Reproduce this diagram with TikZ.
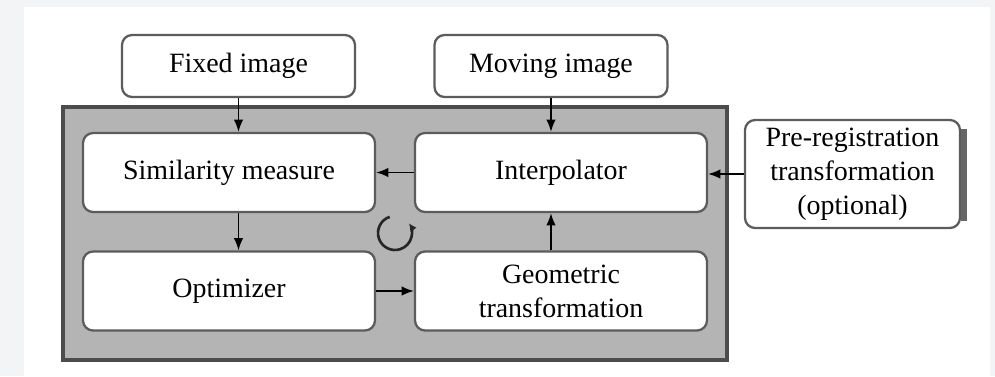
\documentclass[tikz,border=0pt]{standalone}
\usepackage{fontspec}
\setmainfont{Liberation Serif}
\usetikzlibrary{arrows.meta,positioning}
\definecolor{bgc}{HTML}{F3F4F6}
\definecolor{panel}{HTML}{B4B4B4}

\begin{document}
\begin{tikzpicture}[x=0.02cm, y=-0.02cm,
  b/.style={draw=black!64, line width=1.3pt, rounded corners=0.2cm, fill=white, align=center,
    font=\fontsize{15.9}{19.3}\selectfont, inner sep=0pt},
  w/.style={b, minimum width=5.84cm, minimum height=1.58cm},
  io/.style={b, minimum width=4.66cm, minimum height=1.24cm},
  >={Latex[length=7pt,width=5.5pt]}]
\fill[bgc] (0,0) rectangle (995,376);
\fill[white] (24,7) rectangle (990,376);
\useasboundingbox (0,0) rectangle (995,376);
\draw[draw=black!70, fill=panel, line width=1.8pt] (63,107) rectangle (727,360);
\node[io] (fixed) at (238.5,66) {Fixed image};
\node[io] (moving) at (551,66) {Moving image};
\node[w] (sim) at (229,172.5) {Similarity measure};
\node[w] (interp) at (561,172.5) {Interpolator};
\node[w] (opt) at (229,291) {Optimizer};
\node[w] (geo) at (561,291) {Geometric\\transformation};
\node[b, minimum width=4.3cm, minimum height=2.16cm] (pre) at (852.5,174) {Pre-registration\\transformation\\(optional)};
% shadow on the right side
\fill[black!60] ([yshift=-0.2cm]pre.north east) rectangle ([xshift=0.11cm,yshift=0.17cm]pre.south east);
\draw[->, line width=1pt] (fixed.south) -- (fixed.south |- sim.north);
\draw[->, line width=1pt] (moving.south) -- (moving.south |- interp.north);
\draw[->, line width=1pt] (interp.west) -- (sim.east);
\draw[->, line width=1pt] (pre.west) -- (pre.west -| interp.east);
\draw[->, line width=1pt] (sim.south -| fixed) -- (opt.north -| fixed);
\draw[->, line width=1pt] (opt) -- (geo);
\draw[->, line width=1pt] (geo.north -| moving) -- (interp.south -| moving);
% loop mark
\coordinate (loop) at (395,233);
\draw[-{Latex[length=4.5pt,width=4.5pt]}, line width=1.5pt, black!85] (loop) ++(108:0.34cm) arc[start angle=108, end angle=395, radius=0.34cm];
\end{tikzpicture}
\end{document}
